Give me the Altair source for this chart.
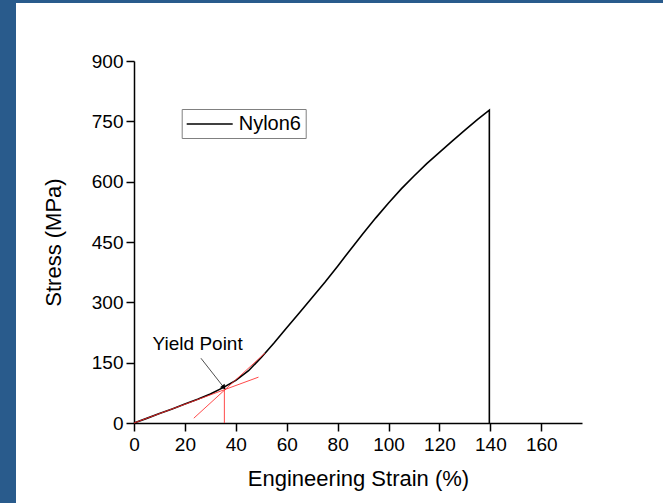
import altair as alt
import pandas as pd

# Tensile curve of the Nylon6 specimen (engineering strain %, stress MPa)
strain = [0, 5, 10, 15, 20, 25, 30, 35, 40, 45, 50, 55, 60, 65, 70, 75, 80, 85,
          90, 95, 100, 105, 110, 115, 120, 125, 130, 135, 139.6, 139.6]
stress = [0, 11.5, 23.5, 35, 47, 59, 72, 88, 106, 130, 163, 199, 237, 274, 312,
          350, 390, 431, 471, 510, 547, 582, 614, 645, 673, 701, 728, 755, 778, 0]
series_name = "Nylon6"

# Yield construction: initial tangent, hardening tangent, drop to the strain axis
tangent_x1 = [0, 23.5, 35.5]
tangent_y1 = [0, 12, 0]
tangent_x2 = [48.9, 51.5, 35.5]
tangent_y2 = [114, 174, 83]

# Annotation
note_text = "Yield Point"
note_x, note_y = 25, 181
arrow_x1, arrow_y1 = 26.3, 161
arrow_x2, arrow_y2 = 35.1, 90

x_ticks = list(range(0, 171, 10))
y_ticks = list(range(0, 901, 75))

FONT = "Liberation Sans"

curve = pd.DataFrame({"strain": strain, "stress": stress,
                      "order": range(len(strain)), "series": series_name})
tangents = pd.DataFrame({"strain": tangent_x1, "stress": tangent_y1,
                         "strain2": tangent_x2, "stress2": tangent_y2})
arrow = pd.DataFrame({"strain": [arrow_x1], "stress": [arrow_y1],
                      "strain2": [arrow_x2], "stress2": [arrow_y2]})
head = pd.DataFrame({"strain": [arrow_x2], "stress": [arrow_y2]})
note = pd.DataFrame({"strain": [note_x], "stress": [note_y], "text": [note_text]})

x_scale = alt.Scale(domain=[0, 176], nice=False, zero=False)
y_scale = alt.Scale(domain=[0, 900], nice=False, zero=False)

x_axis = alt.Axis(
    title="Engineering Strain (%)", values=x_ticks,
    labelExpr="datum.value % 20 === 0 ? datum.label : ''",
    tickSize={"condition": {"test": "datum.value % 20 === 0", "value": 8}, "value": 4},
    labelPadding=4, titlePadding=14, grid=False, labelFlush=False,
)
y_axis = alt.Axis(
    title="Stress (MPa)", values=y_ticks,
    labelExpr="datum.value % 150 === 0 ? datum.label : ''",
    tickSize={"condition": {"test": "datum.value % 150 === 0", "value": 8}, "value": 4},
    labelPadding=3, titlePadding=26, grid=False, labelFlush=False,
)

# Blue frame along the left and top edges of the page
frame = alt.Chart(alt.Data(values=[{"x": -134, "x2": -118, "y": -61, "y2": 442},
                                   {"x": -134, "x2": 529, "y": -61, "y2": -58}])
                  ).mark_rect(color="#295b8c").encode(
    x=alt.X("x:Q", scale=None), x2="x2:Q",
    y=alt.Y("y:Q", scale=None), y2="y2:Q",
)

main = alt.Chart(curve).mark_line(strokeWidth=1.6).encode(
    x=alt.X("strain:Q", scale=x_scale, axis=x_axis),
    y=alt.Y("stress:Q", scale=y_scale, axis=y_axis),
    order="order:Q",
    color=alt.Color(
        "series:N",
        scale=alt.Scale(domain=[series_name], range=["black"]),
        legend=alt.Legend(
            title=None, orient="none", legendX=47.7, legendY=48,
            symbolType="M-2.3,0H2.3", symbolSize=400, symbolStrokeWidth=1.5,
            symbolOffset=13, labelOffset=18,
            labelFont=FONT, labelFontSize=20, labelColor="black",
            strokeColor="#808080", padding=4,
        ),
    ),
)

red = alt.Chart(tangents).mark_rule(color="#ff2a2a", strokeWidth=1, opacity=0.85).encode(
    x=alt.X("strain:Q", scale=x_scale),
    y=alt.Y("stress:Q", scale=y_scale),
    x2="strain2:Q", y2="stress2:Q",
)

arrow_line = alt.Chart(arrow).mark_rule(color="#222222", strokeWidth=0.8).encode(
    x=alt.X("strain:Q", scale=x_scale),
    y=alt.Y("stress:Q", scale=y_scale),
    x2="strain2:Q", y2="stress2:Q",
)

arrow_head = alt.Chart(head).mark_point(
    shape="triangle", filled=True, color="black", size=34, angle=142, opacity=1
).encode(
    x=alt.X("strain:Q", scale=x_scale),
    y=alt.Y("stress:Q", scale=y_scale),
)

label = alt.Chart(note).mark_text(
    font=FONT, fontSize=19, color="black", align="center", baseline="alphabetic"
).encode(
    x=alt.X("strain:Q", scale=x_scale),
    y=alt.Y("stress:Q", scale=y_scale),
    text="text:N",
)

chart = alt.layer(main, red, arrow_line, arrow_head, label, frame).properties(
    width=448, height=362,
    background="white",
    padding={"left": 134, "top": 61, "right": 81, "bottom": 80},
    autosize=alt.AutoSizeParams(type="none"),
).configure_view(stroke=None).configure_axis(
    domainColor="black", domainWidth=1.5, tickColor="black", tickWidth=1.5,
    labelFont=FONT, labelFontSize=19, labelColor="black",
    titleFont=FONT, titleFontSize=22, titleColor="black", titleFontWeight="normal",
)

chart.save("out.html", embed_options={"renderer": "svg", "actions": False})
